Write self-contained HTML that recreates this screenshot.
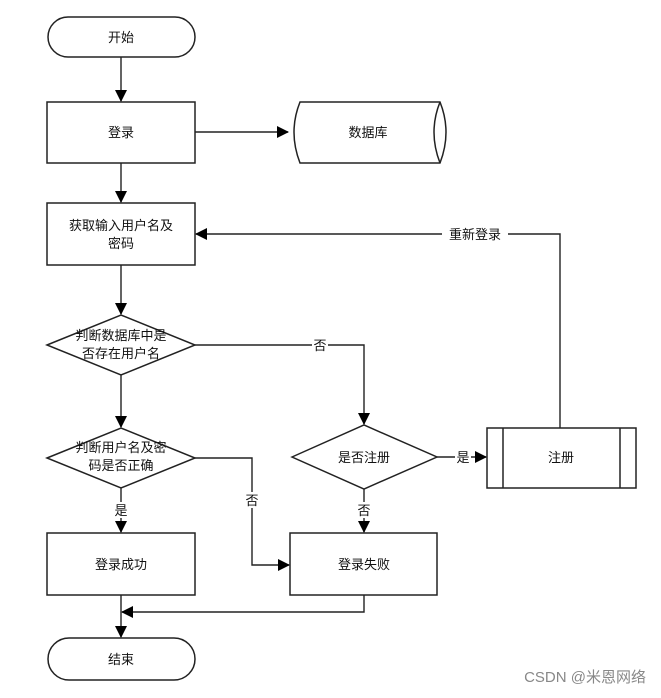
<!DOCTYPE html>
<html><head><meta charset="utf-8"><style>
body{margin:0;background:#fff;}
svg text{font-family:"Liberation Sans","Noto Sans CJK SC",sans-serif;font-size:13px;fill:#111;}
</style></head><body>
<svg width="661" height="693" viewBox="0 0 661 693" xmlns="http://www.w3.org/2000/svg">
<defs><marker id="a" markerWidth="12" markerHeight="12" refX="11" refY="6" orient="auto" markerUnits="userSpaceOnUse"><path d="M0,0 L12,6 L0,12 z" fill="#000"/></marker></defs>
<g fill="none" stroke="#222" stroke-width="1.5">
<rect x="48" y="17" width="147" height="40" rx="20"/>
<rect x="47" y="102" width="148" height="61"/>
<path d="M300,102 H440 Q452,132 440,163 H300 Q288,132 300,102 Z"/>
<path d="M440,102 Q428,132 440,163"/>
<rect x="47" y="203" width="148" height="62"/>
<polygon points="47,345 121,315 195,345 121,375"/>
<polygon points="47,458 121,428 195,458 121,488"/>
<polygon points="292,457 364,425 437,457 364,489"/>
<rect x="487" y="428" width="149" height="60"/>
<line x1="503" y1="428" x2="503" y2="488"/><line x1="620" y1="428" x2="620" y2="488"/>
<rect x="47" y="533" width="148" height="62"/>
<rect x="290" y="533" width="147" height="62"/>
<rect x="48" y="638" width="147" height="42" rx="21"/>
</g>
<g fill="none" stroke="#222" stroke-width="1.4" marker-end="url(#a)">
<line x1="121" y1="57" x2="121" y2="101"/>
<line x1="195" y1="132" x2="288" y2="132"/>
<line x1="121" y1="163" x2="121" y2="202"/>
<line x1="121" y1="265" x2="121" y2="314"/>
<line x1="121" y1="375" x2="121" y2="427"/>
<polyline points="195,345 364,345 364,424"/>
<polyline points="560,428 560,234 196,234"/>
<line x1="437" y1="457" x2="486" y2="457"/>
<line x1="121" y1="488" x2="121" y2="532"/>
<polyline points="195,458 252,458 252,565 289,565"/>
<line x1="364" y1="489" x2="364" y2="532"/>
<polyline points="364,595 364,612 122,612"/>
<line x1="121" y1="595" x2="121" y2="637"/>
</g>
<g text-anchor="middle">
<text x="121" y="42">开始</text>
<text x="121" y="137">登录</text>
<text x="368" y="137">数据库</text>
<text x="121" y="230">获取输入用户名及</text>
<text x="121" y="248">密码</text>
<text x="121" y="340">判断数据库中是</text>
<text x="121" y="358">否存在用户名</text>
<text x="121" y="452">判断用户名及密</text>
<text x="121" y="470">码是否正确</text>
<text x="364" y="462">是否注册</text>
<text x="561" y="462">注册</text>
<text x="121" y="569">登录成功</text>
<text x="364" y="569">登录失败</text>
<text x="121" y="664">结束</text>
</g>
<g text-anchor="middle">
<rect x="442" y="226" width="66" height="16" fill="#fff"/><text x="475" y="239">重新登录</text>
<rect x="312" y="337" width="16" height="16" fill="#fff"/><text x="320" y="350">否</text>
<rect x="455" y="449" width="16" height="16" fill="#fff"/><text x="463" y="462">是</text>
<rect x="113" y="502" width="16" height="16" fill="#fff"/><text x="121" y="515">是</text>
<rect x="244" y="492" width="16" height="16" fill="#fff"/><text x="252" y="505">否</text>
<rect x="356" y="502" width="16" height="16" fill="#fff"/><text x="364" y="515">否</text>
</g>
<text x="646" y="682" text-anchor="end" style="font-size:15px;fill:#888">CSDN @米恩网络</text>
</svg>
</body></html>
